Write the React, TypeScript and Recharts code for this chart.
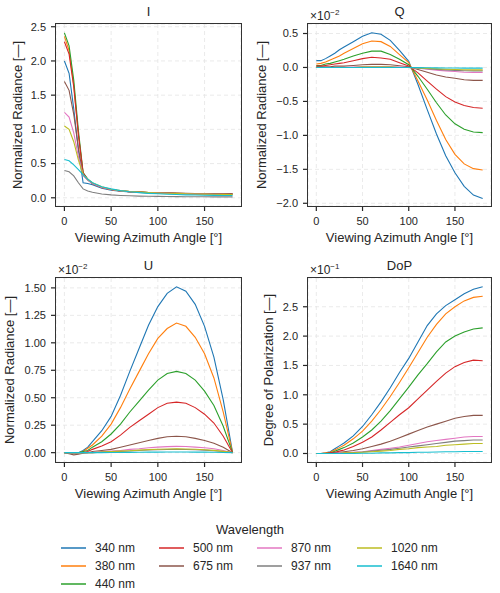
import React from 'react';
import { LineChart, Line, XAxis, YAxis, CartesianGrid } from 'recharts';

// viewing azimuth angles (deg)
const ANGLES = [0, 5, 10, 15, 20, 25, 30, 40, 50, 60, 70, 80, 90, 100, 110, 120, 130, 140, 150, 160, 170, 180];

const WAVELENGTHS = ['340 nm', '380 nm', '440 nm', '500 nm', '675 nm', '870 nm', '937 nm', '1020 nm', '1640 nm'];
const COLORS = ['#1f77b4', '#ff7f0e', '#2ca02c', '#d62728', '#8c564b', '#e377c2', '#7f7f7f', '#bcbd22', '#17becf'];

// I
const I_340 = [2.0, 1.82, 1.3, 0.7, 0.22, 0.21, 0.19, 0.14, 0.11, 0.095, 0.085, 0.078, 0.072, 0.068, 0.064, 0.061, 0.058, 0.056, 0.054, 0.052, 0.051, 0.05];
const I_380 = [2.36, 2.15, 1.65, 0.92, 0.36, 0.27, 0.21, 0.15, 0.12, 0.1, 0.09, 0.083, 0.077, 0.072, 0.068, 0.064, 0.061, 0.058, 0.056, 0.054, 0.053, 0.052];
const I_440 = [2.41, 2.22, 1.72, 0.98, 0.37, 0.27, 0.21, 0.15, 0.12, 0.1, 0.09, 0.083, 0.077, 0.072, 0.068, 0.065, 0.062, 0.06, 0.058, 0.056, 0.055, 0.054];
const I_500 = [2.28, 2.1, 1.62, 0.92, 0.36, 0.27, 0.21, 0.15, 0.12, 0.1, 0.09, 0.083, 0.077, 0.073, 0.069, 0.066, 0.063, 0.061, 0.059, 0.058, 0.057, 0.056];
const I_675 = [1.7, 1.57, 1.22, 0.72, 0.33, 0.26, 0.21, 0.15, 0.12, 0.1, 0.09, 0.083, 0.078, 0.073, 0.07, 0.067, 0.064, 0.062, 0.06, 0.059, 0.058, 0.057];
const I_870 = [1.25, 1.18, 0.95, 0.6, 0.33, 0.26, 0.21, 0.15, 0.12, 0.1, 0.088, 0.08, 0.074, 0.069, 0.065, 0.061, 0.058, 0.055, 0.053, 0.051, 0.05, 0.049];
const I_937 = [0.4, 0.38, 0.32, 0.22, 0.13, 0.1, 0.08, 0.055, 0.042, 0.034, 0.029, 0.025, 0.022, 0.02, 0.018, 0.017, 0.016, 0.015, 0.015, 0.014, 0.014, 0.014];
const I_1020 = [1.05, 1.0, 0.82, 0.55, 0.34, 0.27, 0.22, 0.16, 0.125, 0.105, 0.092, 0.083, 0.076, 0.07, 0.066, 0.062, 0.059, 0.056, 0.054, 0.052, 0.05, 0.049];
const I_1640 = [0.56, 0.54, 0.48, 0.41, 0.34, 0.27, 0.22, 0.16, 0.13, 0.105, 0.088, 0.075, 0.065, 0.058, 0.052, 0.047, 0.043, 0.04, 0.037, 0.035, 0.034, 0.033];

// Q (x 1e-2)
const Q_340 = [0.1, 0.1, 0.13, 0.17, 0.21, 0.26, 0.3, 0.38, 0.46, 0.51, 0.49, 0.4, 0.25, 0.09, -0.25, -0.62, -0.98, -1.3, -1.55, -1.75, -1.88, -1.93];
const Q_380 = [0.05, 0.06, 0.08, 0.11, 0.14, 0.17, 0.21, 0.28, 0.35, 0.39, 0.38, 0.31, 0.19, 0.07, -0.2, -0.48, -0.78, -1.06, -1.28, -1.42, -1.49, -1.51];
const Q_440 = [0.03, 0.03, 0.05, 0.06, 0.08, 0.1, 0.12, 0.17, 0.21, 0.24, 0.24, 0.19, 0.12, 0.04, -0.13, -0.32, -0.52, -0.7, -0.83, -0.91, -0.95, -0.96];
const Q_500 = [0.02, 0.02, 0.03, 0.04, 0.05, 0.06, 0.07, 0.1, 0.13, 0.15, 0.14, 0.12, 0.07, 0.02, -0.08, -0.2, -0.32, -0.43, -0.51, -0.56, -0.59, -0.6];
const Q_675 = [0.01, 0.01, 0.01, 0.01, 0.02, 0.02, 0.02, 0.03, 0.04, 0.045, 0.045, 0.04, 0.025, 0.01, -0.03, -0.07, -0.11, -0.14, -0.16, -0.18, -0.19, -0.19];
const Q_870 = [0, 0, 0, 0, 0, 0, 0, 0.005, 0.01, 0.01, 0.01, 0.01, 0.005, 0, -0.01, -0.025, -0.04, -0.05, -0.06, -0.07, -0.075, -0.075];
const Q_937 = [0, 0, 0, 0, 0, 0, 0, 0, 0.005, 0.005, 0.005, 0.005, 0, 0, -0.008, -0.018, -0.028, -0.036, -0.043, -0.048, -0.05, -0.05];
const Q_1020 = [0, 0, 0, 0, 0, 0, 0, 0, 0.005, 0.005, 0.005, 0.005, 0, 0, -0.006, -0.013, -0.02, -0.026, -0.031, -0.034, -0.036, -0.036];
const Q_1640 = [0, 0, 0, 0, 0, 0, 0, 0, 0, 0, 0, 0, 0, 0, -0.002, -0.004, -0.006, -0.008, -0.009, -0.01, -0.01, -0.01];

// U (x 1e-2)
const U_340 = [0, 0, 0, 0, 0.02, 0.05, 0.1, 0.2, 0.33, 0.52, 0.74, 0.95, 1.16, 1.33, 1.45, 1.51, 1.47, 1.35, 1.15, 0.87, 0.48, 0];
const U_380 = [0, 0, 0, 0, 0.01, 0.04, 0.07, 0.15, 0.26, 0.41, 0.58, 0.74, 0.9, 1.04, 1.13, 1.18, 1.15, 1.05, 0.9, 0.68, 0.37, 0];
const U_440 = [0, 0, 0, 0, 0.01, 0.02, 0.05, 0.1, 0.17, 0.26, 0.37, 0.47, 0.57, 0.66, 0.72, 0.74, 0.72, 0.66, 0.56, 0.43, 0.24, 0];
const U_500 = [0, 0, 0, 0, 0, 0.01, 0.03, 0.06, 0.1, 0.16, 0.23, 0.29, 0.35, 0.41, 0.45, 0.46, 0.45, 0.41, 0.35, 0.27, 0.15, 0];
const U_675 = [0, -0.01, -0.02, -0.015, -0.005, 0, 0.01, 0.02, 0.03, 0.05, 0.07, 0.09, 0.11, 0.13, 0.145, 0.15, 0.145, 0.13, 0.11, 0.085, 0.05, 0];
const U_870 = [0, 0, 0, 0, 0, 0, 0, 0.01, 0.015, 0.02, 0.03, 0.035, 0.045, 0.05, 0.055, 0.057, 0.056, 0.05, 0.045, 0.035, 0.02, 0];
const U_937 = [0, 0, 0, 0, 0, 0, 0, 0.005, 0.01, 0.012, 0.015, 0.02, 0.024, 0.027, 0.029, 0.03, 0.029, 0.027, 0.023, 0.018, 0.01, 0];
const U_1020 = [0, 0, 0, 0, 0, 0, 0, 0.005, 0.01, 0.014, 0.018, 0.023, 0.028, 0.031, 0.034, 0.035, 0.034, 0.031, 0.027, 0.021, 0.012, 0];
const U_1640 = [0, 0, 0, 0, 0, 0, 0, 0, 0.001, 0.002, 0.003, 0.004, 0.005, 0.005, 0.006, 0.006, 0.006, 0.005, 0.005, 0.004, 0.002, 0];

// DoP (x 1e-1)
const D_340 = [0, 0, 0.01, 0.03, 0.08, 0.13, 0.18, 0.3, 0.46, 0.66, 0.88, 1.12, 1.38, 1.62, 1.9, 2.18, 2.38, 2.52, 2.62, 2.72, 2.8, 2.84];
const D_380 = [0, 0, 0.01, 0.02, 0.06, 0.1, 0.14, 0.25, 0.38, 0.55, 0.75, 0.97, 1.21, 1.46, 1.72, 1.98, 2.2, 2.38, 2.5, 2.6, 2.66, 2.68];
const D_440 = [0, 0, 0, 0.01, 0.04, 0.07, 0.1, 0.18, 0.28, 0.4, 0.55, 0.73, 0.93, 1.13, 1.34, 1.53, 1.73, 1.9, 2.0, 2.07, 2.12, 2.14];
const D_500 = [0, 0, 0, 0.01, 0.02, 0.04, 0.06, 0.12, 0.19, 0.28, 0.4, 0.53, 0.66, 0.78, 0.93, 1.08, 1.23, 1.37, 1.48, 1.55, 1.59, 1.58];
const D_675 = [0, 0, 0, 0, 0.01, 0.02, 0.03, 0.05, 0.08, 0.12, 0.16, 0.21, 0.27, 0.33, 0.39, 0.45, 0.5, 0.55, 0.6, 0.63, 0.65, 0.65];
const D_870 = [0, 0, 0, 0, 0, 0.01, 0.01, 0.02, 0.03, 0.05, 0.07, 0.09, 0.11, 0.14, 0.17, 0.2, 0.22, 0.24, 0.26, 0.28, 0.29, 0.29];
const D_937 = [0, 0, 0, 0, 0, 0, 0.01, 0.015, 0.025, 0.04, 0.055, 0.07, 0.09, 0.11, 0.13, 0.15, 0.17, 0.19, 0.21, 0.22, 0.23, 0.23];
const D_1020 = [0, 0, 0, 0, 0, 0, 0.01, 0.01, 0.02, 0.03, 0.04, 0.05, 0.07, 0.08, 0.1, 0.11, 0.12, 0.14, 0.15, 0.16, 0.17, 0.17];
const D_1640 = [0, 0, 0, 0, 0, 0, 0, 0, 0.005, 0.005, 0.01, 0.01, 0.015, 0.015, 0.02, 0.02, 0.025, 0.03, 0.03, 0.035, 0.035, 0.035];

const X_TICKS = [0, 50, 100, 150];
const I_TICKS = [0, 0.5, 1, 1.5, 2, 2.5];
const Q_TICKS = [-2, -1.5, -1, -0.5, 0, 0.5];
const U_TICKS = [0, 0.25, 0.5, 0.75, 1, 1.25, 1.5];
const D_TICKS = [0, 0.5, 1, 1.5, 2, 2.5];

const FONT = '"Liberation Sans", Arial, Helvetica, sans-serif';
const INK = '#262626';

function buildRows(series: number[][]) {
  return ANGLES.map((a, i) => {
    const row: any = { angle: a };
    series.forEach((s, k) => { row['s' + k] = s[i]; });
    return row;
  });
}

const fmt = (d: number) => (v: number) => v.toFixed(d).replace('-', '\u2212');

function Panel({ left, top, margin, rows, yDomain, yTicks, digits, title, yLabel, yLabelX, exponent }: any) {
  const W = 250, H = 250;
  const plotL = margin.left + 50;
  const plotT = margin.top;
  const plotW = W - plotL - margin.right;
  const plotH = H - margin.top - margin.bottom - 30;
  return (
    <div style={{ position: 'absolute', left, top, width: W, height: H }}>
      <LineChart width={W} height={H} data={rows} margin={margin}>
        <CartesianGrid stroke="#e4e4e4" strokeDasharray="4 3" strokeWidth={0.8} />
        <XAxis dataKey="angle" type="number" domain={[-9, 189]} ticks={X_TICKS} allowDataOverflow
          height={30} tickSize={5} tickMargin={6} axisLine={false}
          tickLine={{ stroke: INK, strokeWidth: 1.2 }}
          tick={{ fill: INK, fontSize: 11, fontFamily: FONT }} />
        <YAxis type="number" domain={yDomain} ticks={yTicks} allowDataOverflow width={50}
          tickSize={5} tickMargin={5} axisLine={false}
          tickLine={{ stroke: INK, strokeWidth: 1.2 }}
          tickFormatter={fmt(digits)}
          tick={{ fill: INK, fontSize: 11, fontFamily: FONT }} />
        {WAVELENGTHS.map((w, k) => (
          <Line key={w} dataKey={'s' + k} stroke={COLORS[k]} strokeWidth={1.1} dot={false}
            type="linear" isAnimationActive={false} />
        ))}
      </LineChart>
      <div style={{ position: 'absolute', left: plotL - 0.6, top: plotT - 0.6, width: plotW + 1.2, height: plotH + 1.2,
        border: '1.25px solid #333', boxSizing: 'border-box', pointerEvents: 'none' }} />
      <div style={{ position: 'absolute', left: plotL + plotW / 2, top: plotT - 20, transform: 'translateX(-50%)',
        fontSize: 13, lineHeight: '16px', color: INK, whiteSpace: 'nowrap' }}>{title}</div>
      {exponent && (
        <div style={{ position: 'absolute', left: plotL + 2, top: plotT - 18, fontSize: 12, lineHeight: '14px', color: INK, whiteSpace: 'nowrap' }}>
          ×10<sup style={{ fontSize: 8, verticalAlign: '5px' }}>{exponent}</sup>
        </div>
      )}
      <div style={{ position: 'absolute', left: plotL + plotW / 2, top: plotT + plotH + 24, transform: 'translateX(-50%)',
        fontSize: 13, lineHeight: '16px', color: INK, whiteSpace: 'nowrap' }}>Viewing Azimuth Angle [°]</div>
      <div style={{ position: 'absolute', left: yLabelX, top: plotT + plotH / 2, transform: 'translate(-50%, -50%) rotate(-90deg)',
        fontSize: 13, lineHeight: '16px', color: INK, whiteSpace: 'nowrap' }}>{yLabel}</div>
    </div>
  );
}

function Legend() {
  const cols = [[0, 1, 2], [3, 4], [5, 6], [7, 8]];
  const colX = [61, 159, 257, 357];
  const rowY = [548, 566, 584];
  return (
    <>
      <div style={{ position: 'absolute', left: 250, top: 522, transform: 'translateX(-50%)', fontSize: 13, lineHeight: '16px', color: INK }}>Wavelength</div>
      {cols.map((c, ci) => c.map((k, ri) => (
        <div key={k} style={{ position: 'absolute', left: colX[ci], top: rowY[ri] - 8, height: 16, display: 'flex', alignItems: 'center' }}>
          <svg width={25} height={16}><line x1={0} x2={25} y1={8} y2={8} stroke={COLORS[k]} strokeWidth={1.5} /></svg>
          <span style={{ marginLeft: 9, fontSize: 12, color: INK, whiteSpace: 'nowrap' }}>{WAVELENGTHS[k]}</span>
        </div>
      )))}
    </>
  );
}

export default function App() {
  const iRows = buildRows([I_340, I_380, I_440, I_500, I_675, I_870, I_937, I_1020, I_1640]);
  const qRows = buildRows([Q_340, Q_380, Q_440, Q_500, Q_675, Q_870, Q_937, Q_1020, Q_1640]);
  const uRows = buildRows([U_340, U_380, U_440, U_500, U_675, U_870, U_937, U_1020, U_1640]);
  const dRows = buildRows([D_340, D_380, D_440, D_500, D_675, D_870, D_937, D_1020, D_1640]);
  return (
    <div style={{ position: 'absolute', left: 0, top: 0, width: 500, height: 593, background: '#fff', fontFamily: FONT, overflow: 'hidden' }}>
      <Panel left={0} top={0} margin={{ top: 24, right: 9, left: 6, bottom: 14 }} rows={iRows}
        yDomain={[-0.12, 2.54]} yTicks={I_TICKS} digits={1} title="I" yLabel="Normalized Radiance [—]" yLabelX={18} />
      <Panel left={250} top={0} margin={{ top: 24, right: 9, left: 8, bottom: 14 }} rows={qRows}
        yDomain={[-2.04, 0.64]} yTicks={Q_TICKS} digits={1} title="Q" yLabel="Normalized Radiance [—]" yLabelX={12} exponent="−2" />
      <Panel left={0} top={250} margin={{ top: 28, right: 9, left: 6, bottom: 8 }} rows={uRows}
        yDomain={[-0.085, 1.59]} yTicks={U_TICKS} digits={2} title="U" yLabel="Normalized Radiance [—]" yLabelX={10} exponent="−2" />
      <Panel left={250} top={250} margin={{ top: 28, right: 9, left: 8, bottom: 8 }} rows={dRows}
        yDomain={[-0.145, 2.99]} yTicks={D_TICKS} digits={1} title="DoP" yLabel="Degree of Polarization [—]" yLabelX={19} exponent="−1" />
      <Legend />
    </div>
  );
}
